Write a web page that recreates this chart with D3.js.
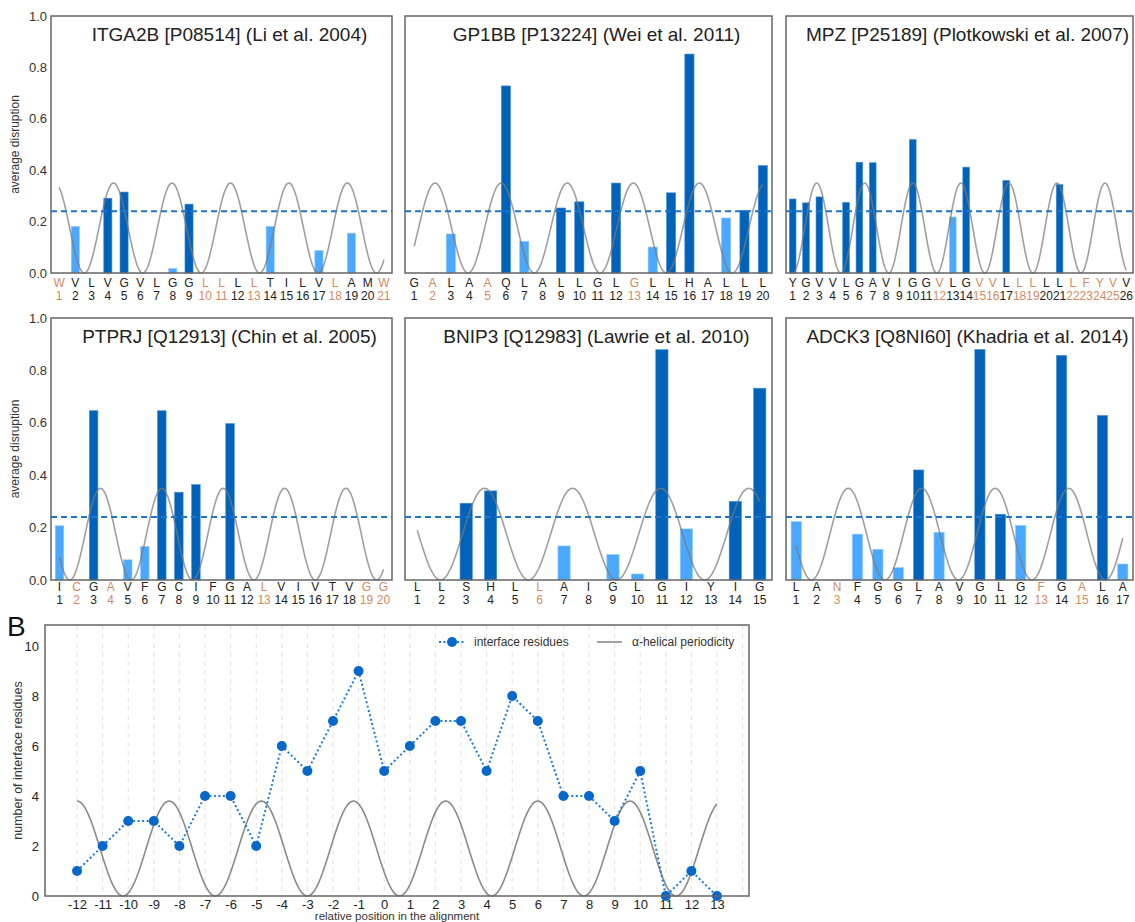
<!DOCTYPE html>
<html>
<head>
<meta charset="utf-8">
<script src="https://cdn.jsdelivr.net/npm/d3@7"></script>
<style>
  body { margin: 0; background: #fff; }
  svg { font-family: "Liberation Sans", Arial, sans-serif; }
</style>
</head>
<body>
<svg id="chart" width="1135" height="922"></svg>
<script>
// panel A data
const panelTitles = [
    'ITGA2B [P08514] (Li et al. 2004)',
    'GP1BB [P13224] (Wei et al. 2011)',
    'MPZ [P25189] (Plotkowski et al. 2007)',
    'PTPRJ [Q12913] (Chin et al. 2005)',
    'BNIP3 [Q12983] (Lawrie et al. 2010)',
    'ADCK3 [Q8NI60] (Khadria et al. 2014)'
]
const panelResidues = [
    'WVLVGVLGGLLLLTILVLAMW',
    'GALAAQLALLGLGLLHALLL',
    'YGVVLGAVIGGVLGVVLLLLLLFYVV',
    'ICGAVFGCIFGALVIVTVGG',
    'LLSHLLAIGLGIYIG',
    'LANFGGLAVGLGFGALA'
]
const panelHighlighted = [
    [1, 10, 11, 13, 18, 21],
    [2, 5, 13],
    [12, 15, 16, 18, 19, 22, 23, 24, 25],
    [2, 4, 13, 19, 20],
    [6],
    [3, 13, 15]
]
const panelDisruption = [
    [0, 0.181, 0, 0.291, 0.315, 0, 0, 0.017, 0.268, 0, 0, 0, 0, 0.181, 0, 0, 0.087, 0, 0.155, 0, 0],
    [0, 0, 0.152, 0, 0, 0.728, 0.123, 0, 0.253, 0.277, 0, 0.35, 0, 0.101, 0.312, 0.852, 0, 0.214, 0.244, 0.418],
    [0.288, 0.273, 0.296, 0, 0.275, 0.431, 0.429, 0, 0, 0.519, 0, 0, 0.218, 0.412, 0, 0, 0.36, 0, 0, 0, 0.344, 0, 0, 0, 0, 0],
    [0.207, 0, 0.646, 0, 0.077, 0.128, 0.646, 0.335, 0.364, 0, 0.597, 0, 0, 0, 0, 0, 0, 0, 0, 0],
    [0, 0, 0.293, 0.34, 0, 0, 0.13, 0, 0.097, 0.023, 0.879, 0.195, 0, 0.30, 0.732],
    [0.223, 0, 0, 0.175, 0.117, 0.047, 0.42, 0.182, 0, 0.88, 0.251, 0.208, 0, 0.857, 0, 0.628, 0.061]
]
// position of first helix maximum per panel
const panelHelixPeak = [4.35, 2.14, 2.8, 3.4, 3.75, 3.55]
const disruptionTicks = [0, 0.2, 0.4, 0.6, 0.8, 1.0]
const threshold = 0.24
const helixMax = 0.35
const helixPeriod = 3.6

// panel B data
const relPositions = [-12, -11, -10, -9, -8, -7, -6, -5, -4, -3, -2, -1, 0, 1, 2, 3, 4, 5, 6, 7, 8, 9, 10, 11, 12, 13]
const interfaceCounts = [1, 2, 3, 3, 2, 4, 4, 2, 6, 5, 7, 9, 5, 6, 7, 7, 5, 8, 7, 4, 4, 3, 5, 0, 1, 0]
const countTicks = [0, 2, 4, 6, 8, 10]
const bHelixMax = 3.8
const bHelixPeak = -12

const darkBlue = '#0062b8'
const lightBlue = '#4aa8ff'
const orange = '#d48a62'

const svg = d3.select('#chart')

const cols = [[51, 392], [405, 772], [786, 1133]]
const rows = [[16, 273], [318, 580]]
const labelOffsets = [[14, 27], [11, 24]]

panelTitles.forEach((title, p) => {
    const col = cols[p % 3]
    const row = rows[Math.floor(p / 3)]
    const res = panelResidues[p].split('')
    const n = res.length
    const vals = panelDisruption[p]

    const x = d3.scaleLinear().domain([0.5, n + 0.5]).range(col)
    const y = d3.scaleLinear().domain([0, 1]).range([row[1], row[0]])
    const g = svg.append('g')
    const bw = (x(1) - x(0)) * 0.5

    g.selectAll('rect.bar')
        .data(vals.map((v, i) => ({pos: i + 1, v: v})).filter(d => d.v > 0))
        .enter().append('rect')
        .attr('class', 'bar')
        .attr('x', d => x(d.pos) - bw / 2)
        .attr('width', bw)
        .attr('y', d => y(d.v))
        .attr('height', d => y(0) - y(d.v))
        .attr('fill', d => d.v >= threshold ? darkBlue : lightBlue)
        .attr('stroke', d => d.v >= threshold ? '#3f8fd8' : '#8cc8ff')
        .attr('stroke-width', 0.6)

    // helical periodicity
    const wave = d3.range(1, n + 0.001, 0.05).map(t => [t, helixMax / 2 * (1 + Math.cos(2 * Math.PI * (t - panelHelixPeak[p]) / helixPeriod))])
    g.append('path')
        .datum(wave)
        .attr('d', d3.line().x(d => x(d[0])).y(d => y(d[1])))
        .attr('fill', 'none')
        .attr('stroke', '#7a7a7a')
        .attr('stroke-opacity', 0.72)
        .attr('stroke-width', 1.6)

    g.append('line')
        .attr('x1', col[0]).attr('x2', col[1])
        .attr('y1', y(threshold)).attr('y2', y(threshold))
        .attr('stroke', '#1f74cc')
        .attr('stroke-width', 2)
        .attr('stroke-dasharray', '6,4')

    g.append('rect')
        .attr('x', col[0]).attr('y', row[0])
        .attr('width', col[1] - col[0]).attr('height', row[1] - row[0])
        .attr('fill', 'none')
        .attr('stroke', '#666')
        .attr('stroke-width', 1.5)

    g.append('text')
        .attr('x', (col[0] + col[1]) / 2 + 8)
        .attr('y', row[0] + 25)
        .attr('text-anchor', 'middle')
        .attr('font-size', 19)
        .attr('fill', '#222')
        .text(title)

    const off = labelOffsets[Math.floor(p / 3)]
    const lab = g.selectAll('g.res')
        .data(res)
        .enter().append('g')
        .attr('class', 'res')
        .attr('fill', (d, i) => panelHighlighted[p].includes(i + 1) ? orange : '#222')
        .attr('text-anchor', 'middle')
        .attr('font-size', 12)
    lab.append('text')
        .attr('x', (d, i) => x(i + 1))
        .attr('y', row[1] + off[0])
        .text(d => d)
    lab.append('text')
        .attr('x', (d, i) => x(i + 1))
        .attr('y', row[1] + off[1])
        .text((d, i) => i + 1)

    if (p % 3 === 0) {
        const ax = g.append('g')
            .attr('transform', `translate(${col[0]},0)`)
            .call(d3.axisLeft(y).tickValues(disruptionTicks).tickFormat(d3.format('.1f')).tickSize(0).tickPadding(4))
        ax.select('.domain').remove()
        ax.selectAll('text').attr('font-size', 13).attr('fill', '#333').attr('font-family', null)
        g.append('text')
            .attr('transform', `translate(19,${(row[0] + row[1]) / 2}) rotate(-90)`)
            .attr('text-anchor', 'middle')
            .attr('font-size', 12)
            .attr('fill', '#333')
            .text('average disruption')
    }
})

// panel B
const bx = [45, 749]
const by = [625, 896]
const xB = d3.scaleLinear().domain([-13.25, 14.25]).range(bx)
const yB = d3.scaleLinear().domain([0, 10.84]).range([by[1], by[0]])
const gB = svg.append('g')

gB.selectAll('line.grid')
    .data(d3.range(-12, 15))
    .enter().append('line')
    .attr('class', 'grid')
    .attr('x1', d => xB(d)).attr('x2', d => xB(d))
    .attr('y1', by[0]).attr('y2', by[1])
    .attr('stroke', '#e2e2e2')
    .attr('stroke-width', 1)
    .attr('stroke-dasharray', '5,4')

const bWave = d3.range(-12, 13.001, 0.05).map(t => [t, bHelixMax / 2 * (1 + Math.cos(2 * Math.PI * (t - bHelixPeak) / helixPeriod))])
gB.append('path')
    .datum(bWave)
    .attr('d', d3.line().x(d => xB(d[0])).y(d => yB(d[1])))
    .attr('fill', 'none')
    .attr('stroke', '#8a8a8a')
    .attr('stroke-width', 1.6)

const pts = relPositions.map((r, i) => [r, interfaceCounts[i]])
gB.append('path')
    .datum(pts)
    .attr('d', d3.line().x(d => xB(d[0])).y(d => yB(d[1])))
    .attr('fill', 'none')
    .attr('stroke', '#1c7bd6')
    .attr('stroke-width', 2)
    .attr('stroke-dasharray', '2,2.5')

gB.selectAll('circle')
    .data(pts)
    .enter().append('circle')
    .attr('cx', d => xB(d[0]))
    .attr('cy', d => yB(d[1]))
    .attr('r', 5)
    .attr('fill', '#0868c9')

gB.append('rect')
    .attr('x', bx[0]).attr('y', by[0])
    .attr('width', bx[1] - bx[0]).attr('height', by[1] - by[0])
    .attr('fill', 'none')
    .attr('stroke', '#666')
    .attr('stroke-width', 1.5)

const axB = gB.append('g')
    .attr('transform', `translate(0,${by[1]})`)
    .call(d3.axisBottom(xB).tickValues(relPositions).tickFormat(d => String(d)).tickSize(0).tickPadding(4))
axB.select('.domain').remove()
axB.selectAll('text').attr('font-size', 13).attr('fill', '#222').attr('font-family', null)

const ayB = gB.append('g')
    .attr('transform', `translate(${bx[0]},0)`)
    .call(d3.axisLeft(yB).tickValues(countTicks).tickSize(0).tickPadding(6))
ayB.select('.domain').remove()
ayB.selectAll('text').attr('font-size', 13).attr('fill', '#222').attr('font-family', null)

gB.append('text')
    .attr('x', (bx[0] + bx[1]) / 2)
    .attr('y', 920)
    .attr('text-anchor', 'middle')
    .attr('font-size', 11.5)
    .attr('fill', '#333')
    .text('relative position in the alignment')

gB.append('text')
    .attr('transform', `translate(22,${(by[0] + by[1]) / 2}) rotate(-90)`)
    .attr('text-anchor', 'middle')
    .attr('font-size', 12.5)
    .attr('fill', '#333')
    .text('number of interface residues')

gB.append('text')
    .attr('x', 7)
    .attr('y', 636)
    .attr('font-size', 28)
    .attr('fill', '#111')
    .text('B')

// legend
const legend = gB.append('g').attr('font-size', 12).attr('fill', '#333')
legend.append('line')
    .attr('x1', 439).attr('x2', 465).attr('y1', 642).attr('y2', 642)
    .attr('stroke', '#1c7bd6').attr('stroke-width', 2).attr('stroke-dasharray', '2,2.5')
legend.append('circle').attr('cx', 452).attr('cy', 642).attr('r', 5).attr('fill', '#0868c9')
legend.append('text').attr('x', 474).attr('y', 646).text('interface residues')
legend.append('line')
    .attr('x1', 597).attr('x2', 622).attr('y1', 642).attr('y2', 642)
    .attr('stroke', '#8a8a8a').attr('stroke-width', 1.6)
legend.append('text').attr('x', 632).attr('y', 646).text('α-helical periodicity')
</script>
</body>
</html>
